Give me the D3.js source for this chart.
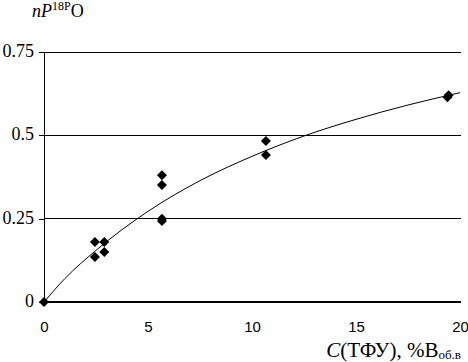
<!DOCTYPE html>
<html><head><meta charset="utf-8">
<script src="https://cdn.jsdelivr.net/npm/d3@7"></script>
<style>body{margin:0;background:#fff}svg{display:block}</style>
</head><body>
<script>
const pointX = [0, 2.45, 2.45, 2.9, 2.9, 5.67, 5.67, 5.67, 5.67, 10.67, 10.67, 19.4, 19.45];
const pointY = [0, 0.18, 0.135, 0.18, 0.15, 0.38, 0.351, 0.243, 0.25, 0.483, 0.441, 0.614, 0.62];
const curveX = [0, 1, 2.5, 5, 7.5, 10, 12.5, 15, 17.5, 20];
const curveY = [0, 0.07, 0.155, 0.272, 0.364, 0.437, 0.498, 0.548, 0.591, 0.628];
const xTicks = [0, 5, 10, 15, 20];
const yTicks = [0, 0.25, 0.5, 0.75];
const yTickLabels = ["0", "0.25", "0.5", "0.75"];

const W = 468, H = 362;
const svg = d3.select("body").append("svg").attr("width", W).attr("height", H);
const x = d3.scaleLinear().domain([0, 20]).range([44, 460]);
const y = d3.scaleLinear().domain([0, 0.75]).range([302, 52]);
const serif = "'Liberation Serif', 'Times New Roman', serif";

// gridlines
svg.append("g").selectAll("line").data(yTicks.filter(d => d > 0)).join("line")
  .attr("x1", x(0)).attr("x2", 461).attr("y1", d => y(d)).attr("y2", d => y(d))
  .attr("stroke", "#000").attr("stroke-width", 1).attr("shape-rendering", "crispEdges");

// y axis
const yAxis = d3.axisLeft(y).tickValues(yTicks).tickSize(5).tickFormat((d, i) => yTickLabels[i]);
const gy = svg.append("g").attr("transform", `translate(${x(0)},0)`).call(yAxis);
gy.attr("font-family", serif);
gy.select(".domain").attr("shape-rendering", "crispEdges");
gy.selectAll("line").attr("shape-rendering", "crispEdges");
gy.selectAll("text").style("font-family", serif).attr("font-size", 18).attr("fill", "#000").attr("x", -10).attr("dy", "0.25em");

// x axis
const xAxis = d3.axisBottom(x).tickValues(xTicks).tickSize(0).tickFormat(d3.format("d"));
const gx = svg.append("g").attr("transform", `translate(0,${y(0)})`).call(xAxis);
gx.select(".domain").attr("stroke-width", 2).attr("d", `M${x(0)},0H461`);
gx.selectAll("text").style("font-family", "'Liberation Sans', Arial, sans-serif").attr("font-size", 15).attr("fill", "#000").attr("y", 0).attr("dy", 30);

// trend curve
const line = d3.line().x((d, i) => x(curveX[i])).y((d, i) => y(curveY[i])).curve(d3.curveMonotoneX);
svg.append("path").datum(curveX).attr("d", line).attr("fill", "none").attr("stroke", "#000").attr("stroke-width", 1);

// diamonds
const diamond = { draw(ctx, size) { const r = Math.sqrt(size / 2); ctx.moveTo(0, -r); ctx.lineTo(r, 0); ctx.lineTo(0, r); ctx.lineTo(-r, 0); ctx.closePath(); } };
svg.append("g").selectAll("path").data(pointX).join("path")
  .attr("transform", (d, i) => `translate(${x(d)},${y(pointY[i])})`)
  .attr("d", d3.symbol().type(diamond).size(50)).attr("fill", "#000");

// y title
const yt = svg.append("text").attr("x", 32).attr("y", 17).style("font-family", serif).attr("font-size", 18).attr("fill", "#000");
yt.append("tspan").attr("font-style", "italic").text("nP");
yt.append("tspan").attr("font-size", 12).attr("dy", -7).text("18P");
yt.append("tspan").attr("dy", 7).text("O");

// x title
const xt = svg.append("text").attr("x", 461).attr("y", 357).attr("text-anchor", "end").style("font-family", serif).attr("font-size", 21).attr("fill", "#000");
xt.append("tspan").attr("font-style", "italic").text("C");
xt.append("tspan").text("(ТФУ), %B");
xt.append("tspan").attr("font-size", 13).attr("dy", 2).text("об.в");
</script>
</body></html>
